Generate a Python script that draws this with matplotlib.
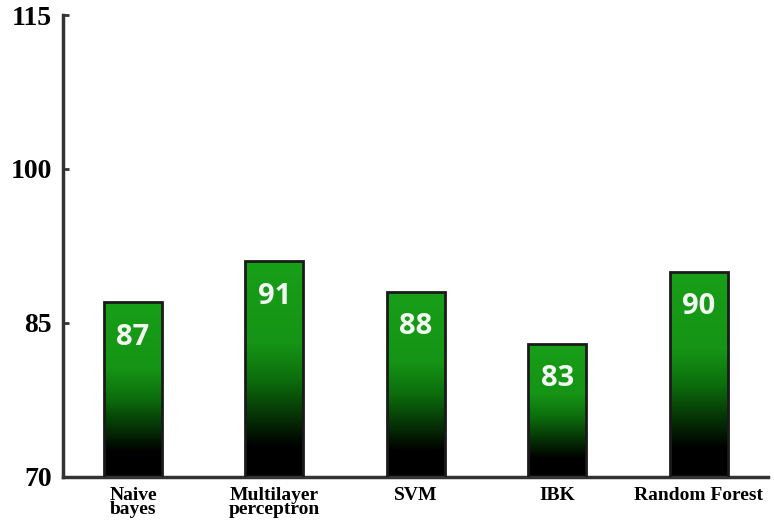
import matplotlib.pyplot as plt
import numpy as np
from matplotlib.colors import LinearSegmentedColormap

classifiers = ["Naive\nbayes", "Multilayer\nperceptron", "SVM", "IBK", "Random Forest"]
accuracy = [87, 91, 88, 83, 90]
y_ticks = [70, 85, 100, 115]

# green over the upper half of each bar, fading to black at the base
fade = LinearSegmentedColormap.from_list(
    "fade", [(0.0, "#000000"), (0.14, "#000000"), (0.45, "#0c6e0c"),
             (0.62, "#159415"), (1.0, "#189f18")])

fig = plt.figure(figsize=(7.74, 5.32), dpi=100)
ax = fig.add_axes([0.0814, 0.1034, 0.9106, 0.8684])

x = np.arange(len(classifiers))
width = 0.41
bars = ax.bar(x, accuracy, width, bottom=0, color="none",
              edgecolor="#1a1a1a", linewidth=2.0, zorder=3)

grad = np.linspace(0, 1, 256).reshape(-1, 1)
for b, v in zip(bars, accuracy):
    x0 = b.get_x()
    im = ax.imshow(grad, cmap=fade, origin="lower", aspect="auto",
                   extent=[x0, x0 + width, 70, v], zorder=2)
    im.set_clip_path(b)
    ax.annotate(str(v), (b.get_x() + width / 2, v), xytext=(0, -25),
                textcoords="offset points", ha="center", va="center",
                color="#f2f7f2", fontsize=21, fontweight="bold",
                family="Open Sans", zorder=4)

ax.set_xlim(-0.495, 4.49)
ax.set_ylim(70, 115)
ax.set_yticks(y_ticks)
ax.set_yticklabels([str(t) for t in y_ticks], family="Liberation Serif",
                   fontweight="bold", fontsize=20)
ax.set_xticks(x)
ax.set_xticklabels(classifiers, family="Liberation Serif", fontweight="bold",
                   fontsize=14, linespacing=0.82)
ax.tick_params(axis="x", length=0, pad=7)
ax.tick_params(axis="y", direction="in", length=4, width=2, color="#333333", pad=8)

for side in ["top", "right"]:
    ax.spines[side].set_visible(False)
for side in ["left", "bottom"]:
    ax.spines[side].set_linewidth(2.5)
    ax.spines[side].set_color("#333333")

fig.savefig("out.png", dpi=100)
